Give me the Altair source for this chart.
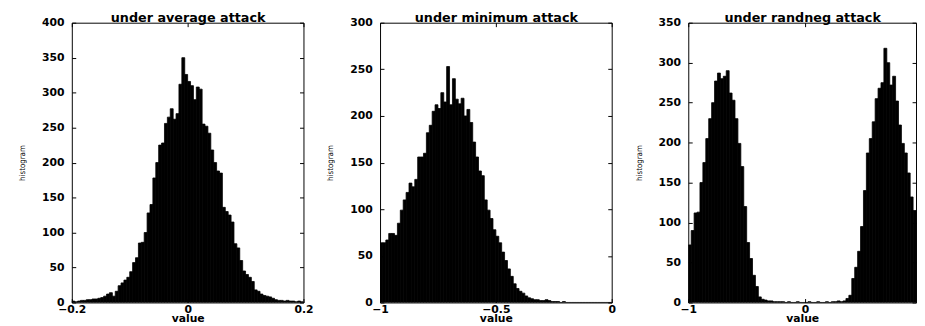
import altair as alt
import pandas as pd

# ---- data (histogram counts per bin) ----
avg_start = -0.2
avg_width = 0.005
avg_counts = [2, 1, 2, 3, 3, 4, 4, 5,
              5, 6, 7, 9, 12, 14, 9, 16,
              24, 28, 32, 36, 44, 57, 64, 85,
              86, 100, 128, 140, 178, 200, 225, 228,
              256, 265, 277, 262, 270, 312, 350, 326,
              316, 310, 290, 308, 305, 255, 252, 242,
              218, 200, 188, 185, 136, 130, 125, 115,
              84, 78, 60, 45, 40, 36, 30, 18,
              16, 12, 10, 9, 8, 6, 4, 3,
              3, 2, 3, 2, 2, 1, 2, 1]

min_start = -1.0
min_width = 0.0125
min_counts = [64, 64, 67, 74, 74, 72, 85, 99,
              110, 118, 128, 124, 132, 156, 156, 160,
              182, 190, 205, 212, 208, 225, 215, 253,
              212, 240, 218, 213, 219, 200, 207, 193,
              172, 156, 141, 136, 110, 99, 90, 78,
              71, 64, 54, 45, 36, 28, 20, 15,
              12, 10, 7, 5, 4, 3, 3, 2,
              2, 3, 2, 1, 1, 1, 0, 1,
              0, 0, 0, 0, 0, 0, 0, 0,
              0, 0, 0, 0, 0, 0, 0, 0]

rn_start = -1.0
rn_width = 0.025
rn_counts = [72, 90, 112, 113, 150, 175, 205, 230,
             250, 277, 287, 280, 283, 290, 262, 253,
             230, 199, 170, 120, 75, 55, 34, 20,
             7, 4, 3, 2, 2, 1, 1, 1,
             1, 0, 1, 0, 0, 1, 0, 0,
             0, 1, 0, 0, 1, 0, 0, 1,
             0, 1, 1, 2, 1, 2, 5, 9,
             30, 44, 64, 95, 140, 187, 205, 226,
             255, 268, 275, 318, 300, 272, 283, 252,
             222, 199, 187, 162, 132, 115]

titles = ["under average attack", "under minimum attack", "under randneg attack"]
x_domains = [[-0.2, 0.2], [-1.0, 0.0], [-1.0, 0.95]]
x_ticks = [[-0.2, 0, 0.2], [-1, -0.5, 0], [-1, 0]]
y_domains = [[0, 400], [0, 300], [0, 350]]
y_ticks = [[0, 50, 100, 150, 200, 250, 300, 350, 400],
           [0, 50, 100, 150, 200, 250, 300],
           [0, 50, 100, 150, 200, 250, 300, 350]]

FONT = "DejaVu Sans"
NARROW = "Liberation Sans Narrow, DejaVu Sans Condensed, sans-serif"
H = 285
LABEL_EXPR = "format(datum.value, '~g')"


def panel(counts, start, width, title, xdom, xt, ydom, yt, w):
    lo = [start + width * i for i in range(len(counts))]
    df = pd.DataFrame({"lo": lo, "hi": [v + width for v in lo], "count": counts})
    xs = alt.Scale(domain=xdom, nice=False, zero=False)
    ys = alt.Scale(domain=ydom, nice=False)
    base = alt.Chart(df)
    bars = base.mark_rect(color="black", stroke="black", strokeWidth=0.8, clip=True).encode(
        x=alt.X("lo:Q", scale=xs, axis=alt.Axis(
            values=xt, orient="bottom", offset=-4, tickSize=4, tickColor="black",
            domain=False, grid=False, labelFlush=False, labelOverlap=False,
            labelExpr=LABEL_EXPR,
            labelPadding=1, labelFont=FONT, labelFontWeight="bold", labelFontSize=11,
            labelColor="black", title="value", titleFont=FONT, titleFontWeight="bold",
            titleFontSize=11, titlePadding=-2, titleColor="black")),
        x2="hi:Q",
        y=alt.Y("count:Q", scale=ys, axis=alt.Axis(
            values=yt, orient="left", offset=-4, tickSize=4, tickColor="black",
            domain=False, grid=False, labelPadding=8, labelFont=FONT,
            labelExpr=LABEL_EXPR,
            labelFontWeight="bold", labelFontSize=11, labelColor="black",
            title="histogram", titleFont=NARROW, titleFontWeight="normal",
            titleFontSize=8, titlePadding=15, titleColor="black")),
        y2=alt.datum(0),
    )
    ticks = base.mark_rect(opacity=0).encode(
        x=alt.X("lo:Q", scale=xs, axis=alt.Axis(
            values=xt, orient="top", offset=-4, tickSize=4, tickColor="black",
            domain=False, grid=False, labels=False,
            title=title, titleFont=FONT, titleFontWeight="bold", titleFontSize=13,
            titlePadding=-2, titleColor="black")),
        x2="hi:Q",
        y=alt.Y("count:Q", scale=ys, axis=alt.Axis(
            values=yt, orient="right", offset=-4, tickSize=4, tickColor="black",
            domain=False, grid=False, labels=False, title=None)),
        y2=alt.datum(0),
    )
    return alt.layer(bars, ticks).resolve_axis(x="independent", y="independent").properties(
        width=w, height=H,
    )


widths = [236, 236, 232]
data = [(avg_counts, avg_start, avg_width), (min_counts, min_start, min_width),
        (rn_counts, rn_start, rn_width)]
panels = [panel(c, s, bw, titles[k], x_domains[k], x_ticks[k], y_domains[k], y_ticks[k], widths[k])
          for k, (c, s, bw) in enumerate(data)]

chart = alt.hconcat(*panels, spacing=78, bounds="flush").properties(
    padding={"left": 10, "top": 0, "right": 0, "bottom": 0},
    background="white",
).configure_view(stroke="black", strokeWidth=1)

chart.save("out.html", embed_options={"renderer": "svg", "actions": False})
